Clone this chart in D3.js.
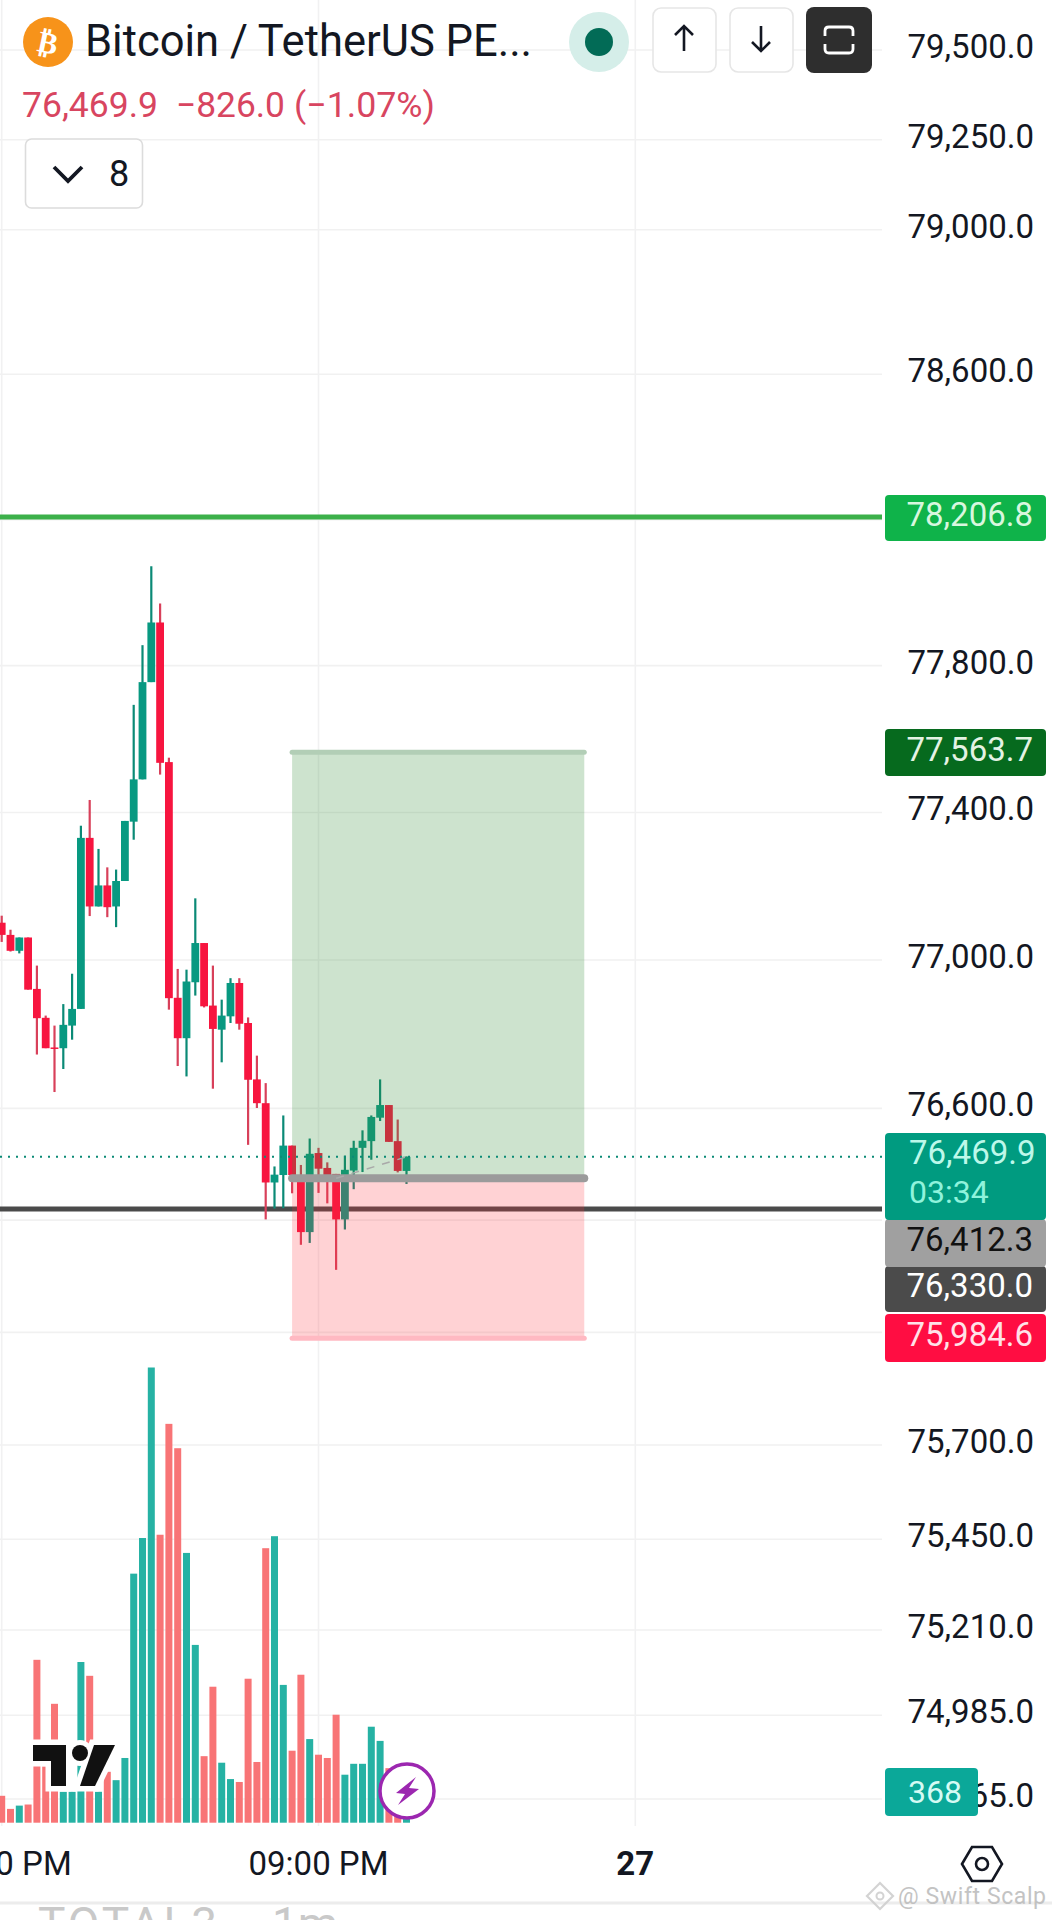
<!DOCTYPE html>
<html><head><meta charset="utf-8">
<script src="https://d3js.org/d3.v7.min.js"></script>
<style>html,body{margin:0;padding:0;background:#fff}svg{display:block;font-family:Roboto,sans-serif}</style>
</head><body><svg id="c" width="1052" height="1920"></svg>
<script>
// ---- data ----
const opens  = [77101,77068,77025,77061,76922,76844,76764,76762,76823,76868,77331,77145,77202,77145,77214,77375,77490,77755,77918,77537,76898,76789,76940,77046,76877,76812,76848,76938,76830,76678,76614,76401,76421,76500,76421,76268,76480,76440,76424,76302,76433,76494,76512,76575,76609,76512,76432];
const highs  = [77120,77082,77061,77061,76985,76850,76823,76881,76963,77364,77434,77301,77251,77245,77377,77693,77856,78072,77970,77549,76976,76974,77167,77046,76985,76893,76951,76951,76845,76742,76668,76444,76581,76500,76448,76519,76494,76455,76424,76473,76513,76541,76581,76678,76609,76570,76471];
const lows   = [77049,77023,77018,76920,76745,76762,76644,76706,76785,76868,77119,77145,77116,77089,77214,77326,77490,77755,77503,76866,76714,76686,76904,76872,76653,76724,76830,76812,76502,76601,76302,76331,76332,76372,76234,76239,76373,76345,76167,76275,76383,76429,76462,76566,76510,76428,76397];
const closes = [77068,77025,77061,76920,76843,76762,76760,76825,76868,77331,77145,77202,77143,77214,77377,77490,77755,77918,77535,76897,76789,76942,77046,76875,76814,76850,76938,76828,76677,76614,76401,76422,76500,76421,76268,76478,76438,76421,76302,76435,76494,76513,76577,76609,76510,76432,76469.9];
const volumes= [222,114,141,150,1344,465,981,255,255,1326,1212,255,420,351,534,2055,2349,3756,2376,3291,3090,2226,1467,549,1122,495,360,336,1188,501,2265,2364,1137,594,1221,690,561,534,891,396,486,486,792,675,450,300,368];
const axisTicks = [79500,79250,79000,78600,78200,77800,77400,77000,76600,76300,76000,75700,75450,75210,74985,74765];
const timeIdx = [0,36,72];
const timeLabels = ["06:00 PM","09:00 PM","27"];
const tpPrice = 78206.8, slPrice = 76330.0, lastPrice = 76469.9;
const toolTarget = 77563.7, toolEntry = 76412.3, toolStop = 75984.6;
const toolBars = [33,66.2];

// ---- scales ----
const W = 1052, plotR = 882;
const x = d3.scaleLinear().domain([0,46]).range([1.7,406.5]);
const y = d3.scaleLog().domain([79500,74765]).range([50,1799]);
const yV = d3.scaleLinear().domain([0,d3.max(volumes)]).range([1822.7,1367.5]);
const svg = d3.select("#c");
const GREEN="#089981", RED="#f7153f", VG="#26b2a4", VR="#f87476", INK="#131722";
const fmt = d3.format(",.1f");

// grid
svg.append("g").selectAll("line").data(axisTicks).join("line")
  .attr("x1",0).attr("x2",plotR).attr("y1",d=>y(d)).attr("y2",d=>y(d))
  .attr("stroke","#f1f1f1").attr("stroke-width",1.6);
svg.append("g").selectAll("line").data(timeIdx).join("line")
  .attr("x1",d=>x(d)).attr("x2",d=>x(d)).attr("y1",0).attr("y2",1826)
  .attr("stroke","#f1f1f2").attr("stroke-width",1.6);

// horizontal levels
const hl=(p,c,w)=>svg.append("line").attr("x1",0).attr("x2",plotR).attr("y1",y(p)).attr("y2",y(p)).attr("stroke",c).attr("stroke-width",w);
hl(tpPrice,"#3cb04a",5);
hl(slPrice,"#4a4a4a",5);

// volume
svg.append("g").selectAll("rect").data(volumes).join("rect")
  .attr("x",(d,i)=>x(i)-3.5).attr("width",7)
  .attr("y",d=>yV(d)).attr("height",d=>yV(0)-yV(d))
  .attr("fill",(d,i)=>closes[i]>=opens[i]?VG:VR);

// candles
const cg = svg.append("g");
cg.selectAll("line").data(opens).join("line")
  .attr("x1",(d,i)=>x(i)).attr("x2",(d,i)=>x(i))
  .attr("y1",(d,i)=>y(highs[i])).attr("y2",(d,i)=>y(lows[i]))
  .attr("stroke",(d,i)=>closes[i]>=opens[i]?"#0b8a76":"#d8405a").attr("stroke-width",2.2);
cg.selectAll("rect").data(opens).join("rect")
  .attr("x",(d,i)=>x(i)-3.9).attr("width",7.8)
  .attr("y",(d,i)=>y(Math.max(d,closes[i])))
  .attr("height",(d,i)=>Math.max(1.4,y(Math.min(d,closes[i]))-y(Math.max(d,closes[i]))))
  .attr("fill",(d,i)=>closes[i]>=opens[i]?GREEN:RED);

// position tool
const tl=x(toolBars[0]), tr=x(toolBars[1]);
svg.append("rect").attr("x",tl).attr("width",tr-tl).attr("y",y(toolTarget)).attr("height",y(toolEntry)-y(toolTarget)).attr("fill","rgba(56,142,60,0.25)");
svg.append("rect").attr("x",tl).attr("width",tr-tl).attr("y",y(toolEntry)).attr("height",y(toolStop)-y(toolEntry)).attr("fill","rgba(255,50,60,0.22)");
const el=(p,c,w)=>svg.append("line").attr("x1",tl).attr("x2",tr).attr("y1",y(p)).attr("y2",y(p)).attr("stroke",c).attr("stroke-width",w).attr("stroke-linecap","round");
el(toolTarget,"#b2ceb6",5);
el(toolStop,"#ffb9c2",5);
el(toolEntry,"#9b9b9b",8);
svg.append("line").attr("x1",x(38)).attr("x2",x(46)).attr("y1",y(toolEntry)).attr("y2",y(lastPrice))
  .attr("stroke","#a9a9a9").attr("stroke-width",1.5).attr("stroke-dasharray","8 8");

// last price dotted
svg.append("line").attr("x1",0).attr("x2",plotR).attr("y1",y(lastPrice)).attr("y2",y(lastPrice))
  .attr("stroke","#0b8a76").attr("stroke-width",2).attr("stroke-dasharray","2 6");

// price axis labels
svg.append("g").selectAll("text").data(axisTicks).join("text")
  .attr("x",1034).attr("y",d=>y(d)+8).attr("text-anchor","end")
  .attr("font-size",33).attr("fill",INK).text(d=>fmt(d));

// price tags
const tag=(p,top,bottom,bg,fg)=>{
  svg.append("rect").attr("x",885).attr("width",161).attr("y",top).attr("height",bottom-top).attr("rx",4).attr("fill",bg);
  svg.append("text").attr("x",1033).attr("y",(top+bottom)/2+8).attr("text-anchor","end").attr("font-size",33).attr("fill",fg).text(p);
};
tag(fmt(tpPrice),495,541,"#0fb34a","#d8f7df");
tag(fmt(toolTarget),729,776,"#066a1e","#e4f3e4");
tag(fmt(toolStop),1314,1362,"#ff0d42","#ffe2e8");
tag(fmt(slPrice),1266,1312,"#4b4b4b","#ffffff");
tag(fmt(toolEntry),1219,1267,"#a0a0a0","#111111");
svg.append("rect").attr("x",885).attr("width",161).attr("y",1133).attr("height",87).attr("rx",4).attr("fill","#009b80");
svg.append("text").attr("x",909).attr("y",1164).attr("font-size",33).attr("fill","#bdf8ea").text(fmt(lastPrice));
svg.append("text").attr("x",909).attr("y",1203).attr("font-size",32).attr("fill","#8ff3dc").text("03:34");
svg.append("rect").attr("x",885).attr("width",93).attr("y",1768).attr("height",48).attr("rx",4).attr("fill","#0ba899");
svg.append("text").attr("x",935).attr("y",1803).attr("text-anchor","middle").attr("font-size",32).attr("fill","#d6fbf4").text(volumes[volumes.length-1]);

// time labels
svg.append("g").selectAll("text").data(timeIdx).join("text")
  .attr("x",d=>x(d)).attr("y",1875).attr("text-anchor","middle")
  .attr("font-size",33).attr("fill",INK).attr("font-weight",(d,i)=>i==2?700:400).text((d,i)=>timeLabels[i]);

// settings hex
const hx=982,hy=1864;
svg.append("path").attr("d",`M${hx-20},${hy} L${hx-10},${hy-17} L${hx+10},${hy-17} L${hx+20},${hy} L${hx+10},${hy+17} L${hx-10},${hy+17} Z`).attr("fill","none").attr("stroke","#131722").attr("stroke-width",2.6);
svg.append("circle").attr("cx",hx).attr("cy",hy).attr("r",6).attr("fill","none").attr("stroke","#131722").attr("stroke-width",2.6);

// TV logo with white halo
const lg=svg.append("g").attr("transform","translate(33,1745)");
const logoD=["M0,0 H33 V41 H18 V16 H0 Z","M61,0 H82 L62,41 H47 Z"];
lg.selectAll("path.h").data(logoD).join("path").attr("class","h").attr("d",d=>d).attr("fill","#fff").attr("stroke","#fff").attr("stroke-width",11);
lg.append("circle").attr("cx",47).attr("cy",8).attr("r",13).attr("fill","#fff");
lg.selectAll("path.k").data(logoD).join("path").attr("class","k").attr("d",d=>d).attr("fill","#111");
lg.append("circle").attr("cx",47).attr("cy",8).attr("r",8).attr("fill","#111");

// bolt
svg.append("circle").attr("cx",407).attr("cy",1791).attr("r",27).attr("fill","#fff").attr("stroke","#9c27b0").attr("stroke-width",3.5);
svg.append("path").attr("d","M416,1777 L396,1793 L405,1794 L398,1805 L419,1789 L409,1788 Z").attr("fill","#9c27b0");

// header
svg.append("circle").attr("cx",48).attr("cy",42).attr("r",25).attr("fill","#f7931a");
svg.append("text").attr("x",48).attr("y",53).attr("text-anchor","middle").attr("font-size",30).attr("font-weight",700).attr("fill","#fff").attr("font-family","DejaVu Sans").attr("transform","rotate(12 48 42)").text("₿");
svg.append("text").attr("x",85).attr("y",56).attr("font-size",43.5).attr("fill",INK).text("Bitcoin / TetherUS PE...");
const sub=(tx,t,len)=>svg.append("text").attr("x",tx).attr("y",117).attr("font-size",35).attr("fill","#d84560").attr("textLength",len).attr("lengthAdjust","spacingAndGlyphs").text(t);
sub(22,"76,469.9",136);
sub(176,"−826.0",109);
sub(294,"(−1.07%)",141);
svg.append("rect").attr("x",25.5).attr("y",139).attr("width",117).attr("height",69).attr("rx",6).attr("fill","#fff").attr("stroke","#dcdcdc").attr("stroke-width",1.6);
svg.append("path").attr("d","M54,167 L68,181 L82,167").attr("fill","none").attr("stroke","#131722").attr("stroke-width",3.8);
svg.append("text").attr("x",119).attr("y",186).attr("text-anchor","middle").attr("font-size",36).attr("fill",INK).text("8");
svg.append("circle").attr("cx",599).attr("cy",42).attr("r",30).attr("fill","#d5eee9");
svg.append("circle").attr("cx",599).attr("cy",42).attr("r",14).attr("fill","#026b56");
const btn=(x0,w)=>svg.append("rect").attr("x",x0).attr("y",8).attr("width",w).attr("height",64).attr("rx",8).attr("fill","#fff").attr("stroke","#e6e6e6").attr("stroke-width",1.6);
btn(653,63);btn(730,63);
svg.append("path").attr("d","M684,51 V26 M675,35 L684,26 L693,35").attr("fill","none").attr("stroke","#131722").attr("stroke-width",2.6);
svg.append("path").attr("d","M761,26 V51 M752,42 L761,51 L770,42").attr("fill","none").attr("stroke","#131722").attr("stroke-width",2.6);
svg.append("rect").attr("x",806).attr("y",7).attr("width",66).attr("height",66).attr("rx",8).attr("fill","#2e2e2e");
svg.append("path").attr("d","M825,36 V31 Q825,27 829,27 H849 Q853,27 853,31 V36 M825,44 V49 Q825,53 829,53 H849 Q853,53 853,49 V44").attr("fill","none").attr("stroke","#fff").attr("stroke-width",2.8);

// bottom strip
svg.append("line").attr("x1",0).attr("x2",W).attr("y1",1903).attr("y2",1903).attr("stroke","#ececec").attr("stroke-width",3);
svg.append("text").attr("x",38).attr("y",1940).attr("font-size",46).attr("fill","#c9c9c9").attr("letter-spacing",3).text("TOTAL3");
svg.append("text").attr("x",272).attr("y",1940).attr("font-size",46).attr("fill","#c9c9c9").text("1m");

// watermark
const wm=svg.append("g").attr("opacity",.9);
wm.append("path").attr("d","M880,1883 L893,1896 L880,1909 L867,1896 Z").attr("fill","none").attr("stroke","#cfcfcf").attr("stroke-width",2.2);
wm.append("circle").attr("cx",880).attr("cy",1896).attr("r",3.5).attr("fill","none").attr("stroke","#cfcfcf").attr("stroke-width",2);
wm.append("text").attr("x",898).attr("y",1904).attr("font-size",23).attr("fill","#bdbdbd").attr("letter-spacing",.6).text("@ Swift Scalp");
</script></body></html>
